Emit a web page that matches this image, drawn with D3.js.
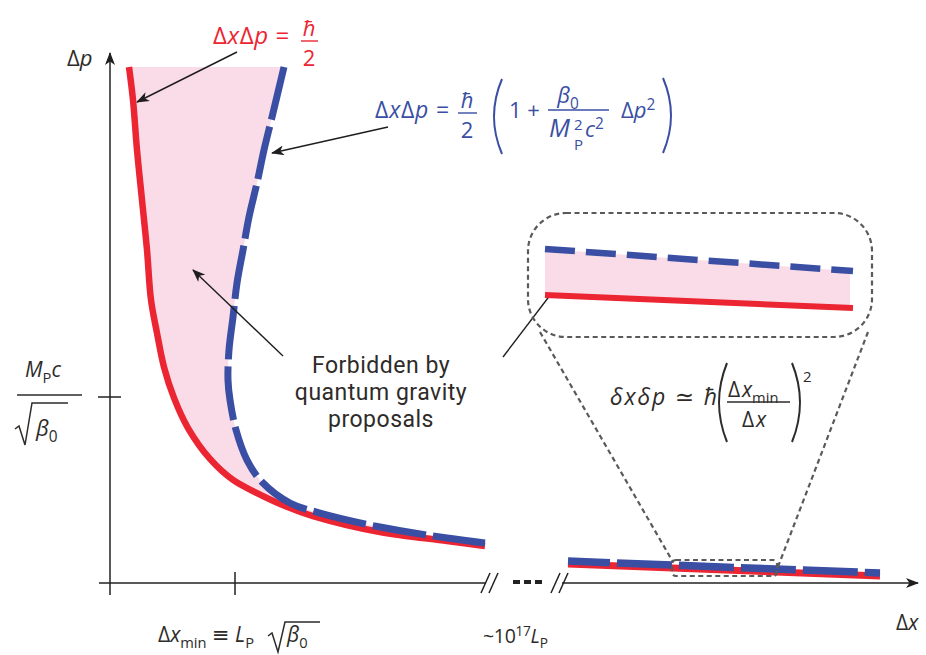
<!DOCTYPE html>
<html>
<head>
<meta charset="utf-8">
<script src="https://cdn.jsdelivr.net/npm/d3@7.9.0/dist/d3.min.js"></script>
<style>
  body { margin: 0; background: #fff; }
  svg { display: block; font-family: "Open Sans", "DejaVu Sans", sans-serif; }
</style>
</head>
<body>
<svg id="chart" width="926" height="655"></svg>
<script>
// curves
// dx in units of dx_min, dp in units of M_P c / sqrt(beta0)
const redDx = [0.152, 0.184, 0.216, 0.256, 0.296, 0.328, 0.376, 0.432, 0.512, 0.624, 0.80, 0.984, 1.16, 1.40, 1.624, 2.16, 2.696, 3.0];
const redDp = [2.774, 2.597, 2.328, 2.059, 1.790, 1.522, 1.344, 1.161, 0.995, 0.833, 0.667, 0.554, 0.489, 0.414, 0.360, 0.274, 0.226, 0.199];

const blueDx = [1.392, 1.296, 1.232, 1.176, 1.112, 1.064, 1.016, 0.984, 0.952, 0.944, 0.96, 1.008, 1.096, 1.216, 1.44, 1.68, 2.16, 2.696, 3.0];
const blueDp = [2.774, 2.505, 2.328, 2.151, 1.968, 1.790, 1.613, 1.430, 1.253, 1.091, 0.984, 0.823, 0.661, 0.543, 0.430, 0.376, 0.301, 0.242, 0.215];

// past the axis break (~1e17 L_P), arbitrary units along the axis
const farDx = [0, 1];
const farRedDp = [0.108, 0.043];
const farBlueDp = [0.118, 0.054];

// magnified view of the far region
const zoomDx = [0, 1];
const zoomRedDp = [0.339, 0.234];
const zoomBlueDp = [0.71, 0.532];

const xTicks = [0, 1];
const yTicks = [1];

const RED = "#ec2532";
const BLUE = "#3a4ea3";
const PINK = "#f9dce7";
const INK = "#2e2b29";
const GREY = "#5a5a5a";

const svg = d3.select("#chart");

const x = d3.scaleLinear().domain([0, 3]).range([110, 485]);
const y = d3.scaleLinear().domain([0, 1]).range([583, 397]);
const xFar = d3.scaleLinear().domain([0, 1]).range([568, 880]);
const xZoom = d3.scaleLinear().domain([0, 1]).range([545, 853]);
const yZoom = d3.scaleLinear().domain([0, 1]).range([337, 213]);

const red = redDx.map((d, i) => [d, redDp[i]]);
const blue = blueDx.map((d, i) => [d, blueDp[i]]);

const line = d3.line().x(d => x(d[0])).y(d => y(d[1])).curve(d3.curveCatmullRom.alpha(0.5));

const defs = svg.append("defs");
defs.append("marker")
  .attr("id", "ah")
  .attr("viewBox", "0 0 13 10")
  .attr("refX", 12).attr("refY", 5)
  .attr("markerWidth", 13).attr("markerHeight", 10)
  .attr("markerUnits", "userSpaceOnUse")
  .attr("orient", "auto")
  .append("path").attr("d", "M0,0 L13,5 L0,10 L3.5,5 Z").attr("fill", "#1e1e1e");

// forbidden region between the two curves
const fillPath = line(red) + "L" + line(blue.slice().reverse()).slice(1) + "Z";
svg.append("path").attr("d", fillPath).attr("fill", PINK);

svg.append("path").attr("d", line(red))
  .attr("fill", "none").attr("stroke", RED).attr("stroke-width", 6.5);
svg.append("path").attr("d", line(blue))
  .attr("fill", "none").attr("stroke", BLUE).attr("stroke-width", 7)
  .attr("stroke-dasharray", "54,7");

// far region
const farLine = (vals, dy) => d3.line().x((d, i) => xFar(farDx[i])).y(d => y(d) + dy)(vals);
svg.append("path").attr("d", farLine(farRedDp, 1))
  .attr("fill", "none").attr("stroke", RED).attr("stroke-width", 7);
svg.append("path").attr("d", farLine(farBlueDp, 0))
  .attr("fill", "none").attr("stroke", BLUE).attr("stroke-width", 7.5)
  .attr("stroke-dasharray", "55,7").attr("stroke-dashoffset", 13);

// axes
const ax = svg.append("g").attr("stroke", "#222").attr("stroke-width", 1.5).attr("fill", "none");
ax.append("line").attr("x1", x(0)).attr("x2", x(0)).attr("y1", 595).attr("y2", 53)
  .attr("marker-end", "url(#ah)");
ax.append("line").attr("x1", 99).attr("x2", 486).attr("y1", y(0)).attr("y2", y(0));
ax.append("line").attr("x1", 562).attr("x2", 918).attr("y1", y(0)).attr("y2", y(0))
  .attr("marker-end", "url(#ah)");
xTicks.filter(d => d > 0).forEach(d => {
  ax.append("line").attr("x1", x(d)).attr("x2", x(d)).attr("y1", y(0) - 11).attr("y2", y(0) + 12);
});
yTicks.forEach(d => {
  ax.append("line").attr("x1", x(0) - 12).attr("x2", x(0) + 11).attr("y1", y(d)).attr("y2", y(d));
});
// axis break marks
[[481, 489], [551, 559]].forEach(pair => {
  pair.forEach(bx => {
    ax.append("line").attr("x1", bx).attr("y1", 593).attr("x2", bx + 9).attr("y2", 573);
  });
});
svg.append("line").attr("x1", 513).attr("x2", 543).attr("y1", 582).attr("y2", 582)
  .attr("stroke", "#222").attr("stroke-width", 4).attr("stroke-dasharray", "7,4");

// annotation arrows
const arrows = [
  [237, 52, 137, 102],
  [388, 127, 272, 153],
  [283, 356, 193, 270],
  [503, 357, 567, 273]
];
svg.selectAll(".arrow").data(arrows).join("line")
  .attr("class", "arrow")
  .attr("x1", d => d[0]).attr("y1", d => d[1]).attr("x2", d => d[2]).attr("y2", d => d[3])
  .attr("stroke", "#1e1e1e").attr("stroke-width", 1.4).attr("marker-end", "url(#ah)");

// inset
const inset = svg.append("g");
inset.append("rect").attr("x", 528).attr("y", 213).attr("width", 344).attr("height", 124)
  .attr("rx", 38).attr("fill", "none").attr("stroke", GREY).attr("stroke-width", 2.2)
  .attr("stroke-dasharray", "5,3.5");
const zl = vals => d3.line().x((d, i) => xZoom(zoomDx[i])).y(d => yZoom(d))(vals);
inset.append("path")
  .attr("d", `M${xZoom(0)},${yZoom(zoomRedDp[0])}L${xZoom(1) - 3},${yZoom(zoomRedDp[1])}L${xZoom(1) - 3},${yZoom(zoomBlueDp[1])}L${xZoom(0)},${yZoom(zoomBlueDp[0])}Z`)
  .attr("fill", PINK);
inset.append("path").attr("d", zl(zoomRedDp)).attr("fill", "none").attr("stroke", RED).attr("stroke-width", 6);
inset.append("path").attr("d", zl(zoomBlueDp)).attr("fill", "none").attr("stroke", BLUE).attr("stroke-width", 6.5)
  .attr("stroke-dasharray", "30,11");

const conn = svg.append("g").attr("stroke", GREY).attr("stroke-width", 2.2).attr("fill", "none")
  .attr("stroke-dasharray", "5,3.5");
conn.append("line").attr("x1", 540).attr("y1", 332).attr("x2", 673).attr("y2", 562);
conn.append("line").attr("x1", 868).attr("y1", 332).attr("x2", 776).attr("y2", 572);
conn.append("rect").attr("x", 672).attr("y", 560).attr("width", 105).attr("height", 16).attr("rx", 4);

// text helpers
function rich(px, py, parts, size, color, anchor, spacing) {
  const t = svg.append("text").attr("x", px).attr("y", py)
    .attr("font-size", size).attr("fill", color).attr("text-anchor", anchor || "start");
  if (spacing) t.attr("letter-spacing", spacing);
  let shift = 0;
  parts.forEach(([s, k]) => {
    k = k || "";
    const sp = t.append("tspan").text(s);
    let target = 0;
    if (k.includes("sub")) { target = size * 0.28; sp.attr("font-size", size * 0.7); }
    if (k.includes("sup")) { target = -size * 0.38; sp.attr("font-size", size * 0.7); }
    if (k.includes("i")) sp.attr("font-style", "italic");
    sp.attr("dy", target - shift);
    shift = target;
  });
  return t;
}
// stacked pieces (fraction parts, multi-line notes) kept in one text element
function stack(px, rows, size, color, anchor) {
  const t = svg.append("text").attr("font-size", size).attr("fill", color)
    .attr("text-anchor", anchor || "middle");
  rows.forEach(([s, yy, k, sz, xx]) => {
    const sp = t.append("tspan").attr("x", xx !== undefined ? xx : px).attr("y", yy).text(s);
    if (k && k.includes("i")) sp.attr("font-style", "italic");
    if (sz) sp.attr("font-size", sz);
  });
  return t;
}
function bar(x1, x2, yy, color) {
  svg.append("line").attr("x1", x1).attr("x2", x2).attr("y1", yy).attr("y2", yy)
    .attr("stroke", color).attr("stroke-width", 1.4);
}
function radical(x0, top, bottom, x2, color) {
  svg.append("path")
    .attr("d", `M${x0},${bottom - 16} L${x0 + 4},${bottom - 19} L${x0 + 10},${bottom} L${x0 + 17},${top} L${x2},${top}`)
    .attr("fill", "none").attr("stroke", color).attr("stroke-width", 1.5);
}
function paren(xa, xb, y1, y2, color) {
  svg.append("path")
    .attr("d", `M${xa},${y1} Q${xb},${(y1 + y2) / 2} ${xa},${y2}`)
    .attr("fill", "none").attr("stroke", color).attr("stroke-width", 2);
}

// red label
rich(213, 44, [["Δ"], ["x", "i"], ["Δ"], ["p", "i"], [" ="]], 24, RED, "start", 0.6);
stack(309, [["ħ", 36, "i"], ["2", 66]], 22, RED);
bar(301, 318, 41, RED);

// blue label
rich(375, 118, [["Δ"], ["x", "i"], ["Δ"], ["p", "i"], [" ="]], 23, BLUE, "start", 0.8);
stack(467, [["ħ", 108, "i"], ["2", 138]], 22, BLUE);
bar(458, 477, 113, BLUE);
paren(502, 486, 79, 154, BLUE);
rich(509, 118, [["1 +"]], 22, BLUE);
rich(568, 103, [["β", "i"], ["0", "sub"]], 22, BLUE, "middle");
bar(548, 609, 110, BLUE);
stack(0, [["2", 130, "", 15, 574], ["P", 150, "", 15, 574]], 15, BLUE, "start");
rich(549, 137, [["M", "i"]], 25, BLUE);
rich(585, 137, [["c", "i"], ["2", "sup"]], 22, BLUE);
rich(621, 118, [["Δ"], ["p", "i"], ["2", "sup"]], 22, BLUE);
paren(663, 679, 78, 153, BLUE);

// axis labels
rich(67, 66, [["Δ"], ["p", "i"]], 22, INK);
rich(896, 630, [["Δ"], ["x", "i"]], 21, INK);

// y tick label
rich(25, 377, [["M", "i"], ["P", "sub"], ["c", "i"]], 21, INK);
bar(17, 82, 395, INK);
radical(15, 403, 445, 68, INK);
rich(36, 436, [["β", "i"], ["0", "sub"]], 22, INK);

// x tick labels
rich(158, 642, [["Δ"], ["x", "i"], ["min", "sub"], [" ≡ "], ["L", "i"], ["P", "sub"]], 21, INK);
radical(268, 622, 652, 320, INK);
rich(287, 642, [["β", "i"], ["0", "sub"]], 21, INK);
rich(483, 643, [["~10"], ["17", "sup"], ["L", "i"], ["P", "sub"]], 19.5, INK, "start", -0.3);

// forbidden region note
stack(381, [["Forbidden by", 373], ["quantum gravity", 400], ["proposals", 427]], 23, INK)
  .attr("font-family", "Roboto, 'Open Sans', sans-serif").attr("letter-spacing", 0.5);

// fluctuation formula
rich(610, 405, [["δ", "i"], ["x", "i"], ["δ", "i"], ["p", "i"], [" ≃ "], ["ħ", "i"]], 23, INK, "start", 1.8);
paren(727, 711, 363, 442, INK);
stack(0, [["Δ", 397, "", 21, 728], ["Δ", 427, "", 21, 742]], 21, INK, "start");
rich(742, 397, [["x", "i"], ["min", "sub"]], 21, INK);
rich(756, 427, [["x", "i"]], 21, INK);
bar(727, 790, 402, INK);
paren(792, 808, 363, 442, INK);
rich(803, 382, [["2"]], 15, INK);
</script>
</body>
</html>
